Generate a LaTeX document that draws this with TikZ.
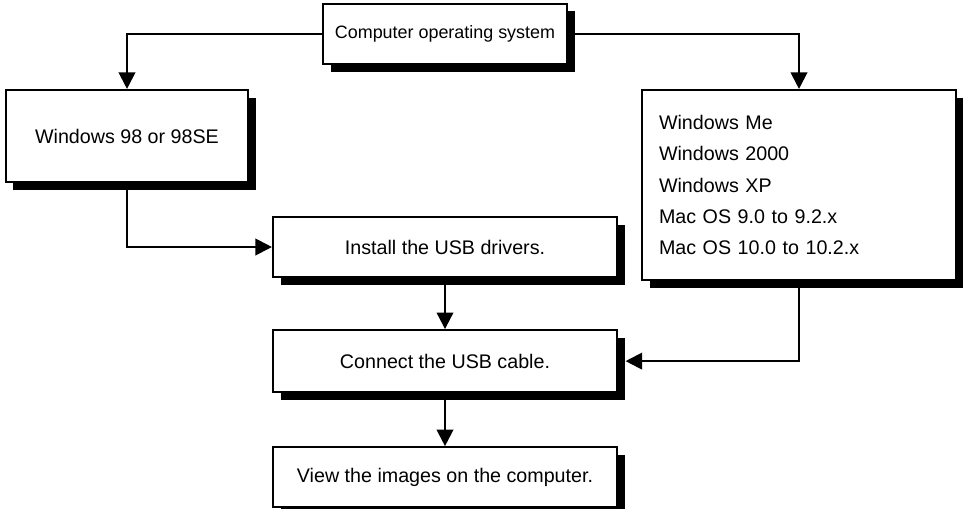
\documentclass[tikz,border=0pt]{standalone}
\usepackage{fontspec}
\setmainfont{Liberation Sans}
\usetikzlibrary{arrows.meta, positioning, shadows}
\tikzset{
    box/.style={
        draw,
        line width=1.2pt,
        fill=white,
        drop shadow={shadow xshift=0.15cm, shadow yshift=-0.15cm, fill=black, opacity=1},
        inner sep=0pt,
        minimum width=6.88cm,
        minimum height=1.2cm,
        align=center,
        font=\fontsize{11.2}{13}\selectfont
    },
    line/.style={-{Triangle[length=0.33cm, width=0.33cm]}, line width=1.2pt}
}

\begin{document}
\begin{tikzpicture}[node distance=1.02cm]
\useasboundingbox (0,0) rectangle (19.26,-10.16);

\node[box, minimum width=4.88cm, font=\fontsize{10.2}{12}\selectfont] (os) at (8.9,-0.68) {Computer operating system};
\node[box, minimum width=4.84cm, minimum height=1.84cm] (win98) at (2.54,-2.72) {Windows 98 or 98SE};
\node[box, minimum width=6.28cm, minimum height=3.8cm, text width=5.6cm, align=left,
      font=\fontsize{11.2}{17.9}\selectfont] (others) at (15.98,-3.7)
{Windows Me\\Windows 2000\\Windows XP\\Mac OS 9.0 to 9.2.x\\Mac OS 10.0 to 10.2.x};

\node[box] (install) at (8.9,-4.94) {Install the USB drivers.};
\node[box, below=of install, minimum height=1.24cm] (connect) {Connect the USB cable.};
\node[box, below=1.06cm of connect] (view) {View the images on the computer.};

\draw[line] (os.west) -| (win98.north);
\draw[line] (os.east) -| (others.north);
\draw[line] (win98.south) |- (install.west);
\draw[line] (install.south) -- (connect.north);
\draw[line] (others.south) |- ([xshift=0.15cm]connect.east);
\draw[line] (connect.south) -- (view.north);

\end{tikzpicture}
\end{document}
